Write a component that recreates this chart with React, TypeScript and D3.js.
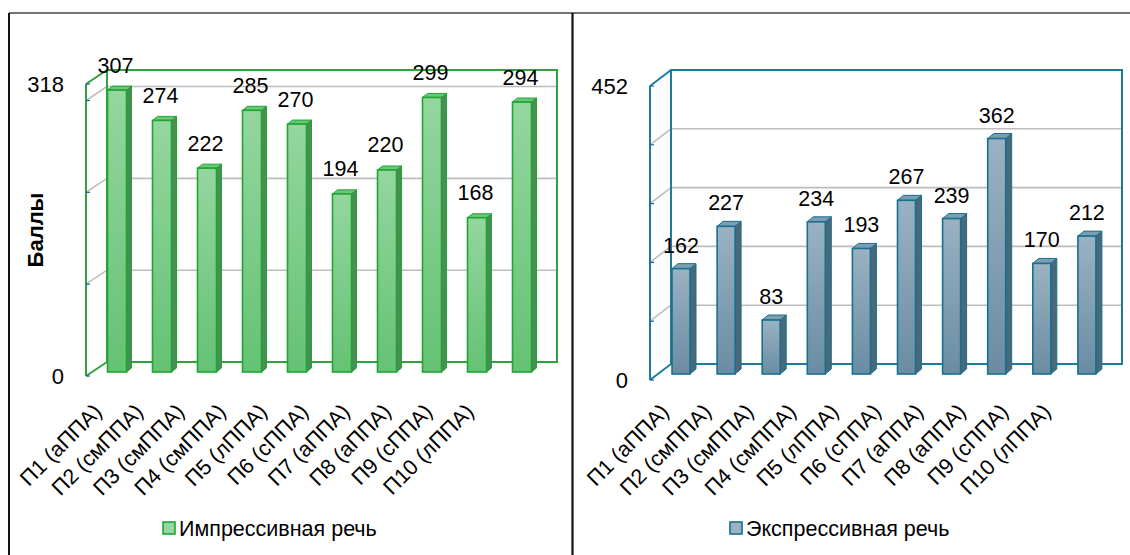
import React from "react";
import * as d3 from "d3";

const categories = [
  "П1 (аППА)",
  "П2 (смППА)",
  "П3 (смППА)",
  "П4 (смППА)",
  "П5 (лППА)",
  "П6 (сППА)",
  "П7 (аППА)",
  "П8 (аППА)",
  "П9 (сППА)",
  "П10 (лППА)",
];
const impressiveValues = [307, 274, 222, 285, 270, 194, 220, 299, 168, 294];
const expressiveValues = [162, 227, 83, 234, 193, 267, 239, 362, 170, 212];
const impressiveMax = 318;
const expressiveMax = 452;
const impressiveGrid = [100, 200, 300];
const expressiveGrid = [90.4, 180.8, 271.2, 361.6];
const impressiveTickLabels = [0, 318];
const expressiveTickLabels = [0, 452];
const impressiveLegend = "Импрессивная речь";
const expressiveLegend = "Экспрессивная речь";
const yTitle = "Баллы";

const FONT = "'Liberation Sans', Arial, sans-serif";

type Geo = {
  fx: number;
  bx: number;
  bx2: number;
  floorFront: number;
  floorBack: number;
  barFloor: number;
  H: number;
  barOff: number;
  barW: number;
  ddx: number;
  ddy: number;
  labelDx: number;
  labelGap: number;
  catStart: number;
  catEnd: number;
  catY: number;
};

type Colors = {
  wall: string;
  frontTop: string;
  frontBottom: string;
  border: string;
  side: string;
  top: string;
  tick: string;
};

function Panel(props: {
  id: string;
  geo: Geo;
  colors: Colors;
  values: number[];
  max: number;
  grid: number[];
  tickLabels: number[];
  tickX: number;
  legend: string;
  legendX: number;
}) {
  const { id, geo, colors, values, max, grid, tickLabels, tickX, legend, legendX } = props;
  const x = d3.scaleBand<string>().domain(categories).range([geo.bx, geo.bx2]).padding(0);
  const xCat = d3.scalePoint<string>().domain(categories).range([geo.catStart, geo.catEnd]);
  const yBack = d3.scaleLinear().domain([0, max]).range([geo.floorBack, geo.floorBack - geo.H]);
  const yFront = d3.scaleLinear().domain([0, max]).range([geo.floorFront, geo.floorFront - geo.H]);
  const yBar = d3.scaleLinear().domain([0, max]).range([geo.barFloor, geo.barFloor - geo.H]);
  const gradId = `grad-${id}`;
  const tickVals = [0, ...grid, max];

  return (
    <g>
      <defs>
        <linearGradient id={gradId} x1="0" y1="0" x2="0" y2="1">
          <stop offset="0%" stopColor={colors.frontTop} />
          <stop offset="100%" stopColor={colors.frontBottom} />
        </linearGradient>
      </defs>
      {/* gridlines */}
      {grid.map((g) => (
        <g key={`g${g}`}>
          <line x1={geo.bx} x2={geo.bx2} y1={yBack(g)} y2={yBack(g)} stroke="#bdbdbd" strokeWidth={1.6} />
          <line x1={geo.fx} x2={geo.bx} y1={yFront(g)} y2={yBack(g)} stroke="#bdbdbd" strokeWidth={1.6} />
        </g>
      ))}
      {/* walls */}
      <rect
        x={geo.bx}
        y={yBack(max)}
        width={geo.bx2 - geo.bx}
        height={yBack(0) - yBack(max)}
        fill="none"
        stroke={colors.wall}
        strokeWidth={2}
      />
      <line x1={geo.fx} x2={geo.fx} y1={yFront(max)} y2={yFront(0)} stroke={colors.wall} strokeWidth={2} />
      <line x1={geo.fx} x2={geo.bx} y1={yFront(max)} y2={yBack(max)} stroke={colors.wall} strokeWidth={2} />
      <line x1={geo.fx} x2={geo.bx} y1={yFront(0)} y2={yBack(0)} stroke={colors.wall} strokeWidth={2} />
      {tickVals.map((t) => (
        <line key={`t${t}`} x1={geo.fx} x2={geo.fx + 4} y1={yFront(t)} y2={yFront(t)} stroke={colors.tick} strokeWidth={1.2} />
      ))}
      {/* bars */}
      {values.map((v, i) => {
        const c = categories[i];
        const x0 = (x(c) as number) + geo.barOff;
        const x1 = x0 + geo.barW;
        const yt = yBar(v);
        const yb = yBar(0);
        const { ddx, ddy } = geo;
        return (
          <g key={c}>
            <path
              d={`M${x1},${yb} L${x1 + ddx},${yb + ddy} L${x1 + ddx},${yt + ddy} L${x1},${yt} Z`}
              fill={colors.side}
              stroke={colors.border}
              strokeWidth={1}
            />
            <path
              d={`M${x0},${yt} L${x0 + ddx},${yt + ddy} L${x1 + ddx},${yt + ddy} L${x1},${yt} Z`}
              fill={colors.top}
              stroke={colors.border}
              strokeWidth={1}
            />
            <rect
              x={x0}
              y={yt}
              width={geo.barW}
              height={yb - yt}
              fill={`url(#${gradId})`}
              stroke={colors.border}
              strokeWidth={1.6}
            />
            <text
              x={x0 + geo.barW / 2 + geo.labelDx}
              y={yt - geo.labelGap}
              textAnchor="middle"
              fontFamily={FONT}
              fontSize={21.5}
              fill="#000"
            >
              {v}
            </text>
          </g>
        );
      })}
      {/* tick labels */}
      {tickLabels.map((t) => (
        <text
          key={`tl${t}`}
          x={tickX}
          y={yFront(t)}
          dy="0.36em"
          textAnchor="end"
          fontFamily={FONT}
          fontSize={22}
          fill="#000"
        >
          {t}
        </text>
      ))}
      {/* category labels */}
      {categories.map((c) => (
        <text
          key={`c${c}`}
          transform={`translate(${xCat(c)},${geo.catY}) rotate(-45)`}
          textAnchor="end"
          fontFamily={FONT}
          fontSize={21.5}
          fill="#000"
        >
          {c}
        </text>
      ))}
      {/* legend */}
      <rect
        x={legendX}
        y={522}
        width={12}
        height={12}
        fill={colors.frontTop}
        stroke={colors.border}
        strokeWidth={1.6}
      />
      <text x={legendX + 16} y={536} fontFamily={FONT} fontSize={21.5} fill="#000">
        {legend}
      </text>
    </g>
  );
}

export default function App() {
  const leftGeo: Geo = {
    fx: 86,
    bx: 107,
    bx2: 557,
    floorFront: 376,
    floorBack: 362,
    barFloor: 372,
    H: 292,
    barOff: 0.5,
    barW: 19,
    ddx: 5,
    ddy: -4,
    labelDx: -1.5,
    labelGap: 17.5,
    catStart: 103,
    catEnd: 475,
    catY: 413,
  };
  const rightGeo: Geo = {
    fx: 650,
    bx: 671,
    bx2: 1122,
    floorFront: 380,
    floorBack: 364,
    barFloor: 374,
    H: 294,
    barOff: 1,
    barW: 18,
    ddx: 6,
    ddy: -5,
    labelDx: 0,
    labelGap: 16,
    catStart: 670,
    catEnd: 1052,
    catY: 413,
  };
  const green: Colors = {
    wall: "#2fa23f",
    frontTop: "#94d69f",
    frontBottom: "#65c274",
    border: "#1ea532",
    side: "#4c8c57",
    top: "#6cc67a",
    tick: "#1f5fa0",
  };
  const blue: Colors = {
    wall: "#1b7c9d",
    frontTop: "#9ab2c3",
    frontBottom: "#6a8ca2",
    border: "#17708f",
    side: "#4b6878",
    top: "#7d9db1",
    tick: "#1f5fa0",
  };
  return (
    <svg
      width={1130}
      height={555}
      style={{ position: "absolute", left: 0, top: 0, background: "#fff" }}
    >
      <rect x={0} y={0} width={1130} height={555} fill="#fff" />
      {/* frame */}
      <line x1={9} x2={1130} y1={13} y2={13} stroke="#444" strokeWidth={1.6} />
      <line x1={9} x2={9} y1={13} y2={555} stroke="#111" strokeWidth={2} />
      <line x1={572.5} x2={572.5} y1={13} y2={555} stroke="#111" strokeWidth={2.2} />
      <text
        transform="translate(43,230) rotate(-90)"
        textAnchor="middle"
        fontFamily={FONT}
        fontSize={22}
        fontWeight="bold"
        fill="#000"
      >
        {yTitle}
      </text>
      <Panel
        id="imp"
        geo={leftGeo}
        colors={green}
        values={impressiveValues}
        max={impressiveMax}
        grid={impressiveGrid}
        tickLabels={impressiveTickLabels}
        tickX={64}
        legend={impressiveLegend}
        legendX={163}
      />
      <Panel
        id="exp"
        geo={rightGeo}
        colors={blue}
        values={expressiveValues}
        max={expressiveMax}
        grid={expressiveGrid}
        tickLabels={expressiveTickLabels}
        tickX={628}
        legend={expressiveLegend}
        legendX={730}
      />
    </svg>
  );
}
